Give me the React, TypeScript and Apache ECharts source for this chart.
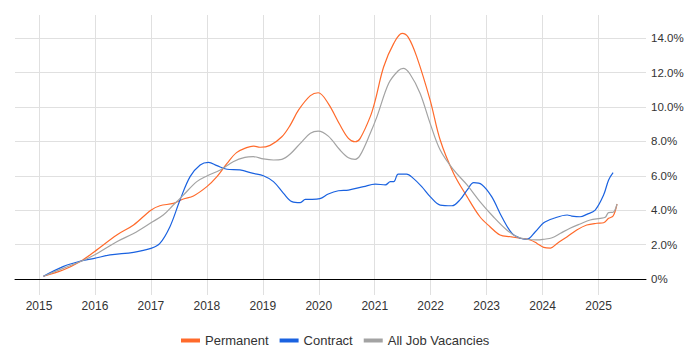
import React, { useEffect, useRef } from "react";
import * as echarts from "echarts";

const yearTicks = [2015, 2016, 2017, 2018, 2019, 2020, 2021, 2022, 2023, 2024, 2025];
const pctTicks = [0, 2, 4, 6, 8, 10, 12, 14];

const permDates = [2015.08, 2015.43, 2015.73, 2015.99, 2016.39, 2016.69, 2017.0, 2017.16, 2017.4, 2017.58, 2017.76, 2018.0, 2018.18, 2018.36, 2018.53, 2018.71, 2018.83, 2018.95, 2019.13, 2019.34, 2019.49, 2019.64, 2019.85, 2019.99, 2020.17, 2020.38, 2020.53, 2020.65, 2020.74, 2020.92, 2021.01, 2021.16, 2021.34, 2021.49, 2021.6, 2021.75, 2021.99, 2022.17, 2022.41, 2022.65, 2022.88, 2023.06, 2023.24, 2023.42, 2023.6, 2023.78, 2023.9, 2024.02, 2024.14, 2024.26, 2024.44, 2024.61, 2024.79, 2024.97, 2025.09, 2025.18, 2025.26, 2025.33];
const permValues = [0.16, 0.52, 1.0, 1.59, 2.56, 3.14, 4.0, 4.26, 4.4, 4.65, 4.83, 5.37, 5.95, 6.72, 7.35, 7.64, 7.73, 7.66, 7.77, 8.27, 8.95, 9.83, 10.66, 10.83, 10.2, 8.95, 8.18, 7.98, 8.18, 9.44, 10.4, 12.34, 13.7, 14.28, 14.05, 12.93, 10.4, 8.08, 6.14, 4.79, 3.62, 3.04, 2.56, 2.46, 2.37, 2.27, 2.07, 1.84, 1.8, 2.07, 2.46, 2.85, 3.14, 3.24, 3.27, 3.53, 3.66, 4.36];

const contDates = [2015.08, 2015.43, 2015.73, 2015.99, 2016.27, 2016.69, 2017.0, 2017.16, 2017.34, 2017.52, 2017.7, 2017.88, 2018.03, 2018.18, 2018.36, 2018.59, 2018.83, 2019.01, 2019.19, 2019.37, 2019.52, 2019.67, 2019.76, 2019.88, 2020.02, 2020.17, 2020.35, 2020.53, 2020.8, 2021.01, 2021.19, 2021.28, 2021.34, 2021.42, 2021.57, 2021.69, 2021.84, 2021.99, 2022.17, 2022.38, 2022.53, 2022.65, 2022.77, 2022.91, 2023.09, 2023.27, 2023.45, 2023.6, 2023.72, 2023.87, 2024.02, 2024.2, 2024.44, 2024.52, 2024.67, 2024.79, 2024.94, 2025.09, 2025.18, 2025.26];
const contValues = [0.16, 0.72, 1.03, 1.2, 1.4, 1.55, 1.78, 2.07, 3.04, 4.59, 5.95, 6.63, 6.78, 6.59, 6.38, 6.34, 6.14, 6.0, 5.66, 4.98, 4.5, 4.44, 4.63, 4.63, 4.67, 4.94, 5.13, 5.17, 5.37, 5.52, 5.47, 5.66, 5.66, 6.1, 6.1, 5.85, 5.37, 4.79, 4.3, 4.26, 4.63, 5.17, 5.6, 5.5, 4.79, 3.62, 2.66, 2.37, 2.31, 2.75, 3.27, 3.53, 3.72, 3.66, 3.62, 3.76, 4.01, 4.88, 5.76, 6.18];

const allDates = [2015.08, 2015.43, 2015.73, 2015.99, 2016.39, 2016.69, 2017.0, 2017.22, 2017.4, 2017.58, 2017.82, 2018.0, 2018.24, 2018.47, 2018.68, 2018.83, 2019.01, 2019.19, 2019.34, 2019.49, 2019.67, 2019.85, 2019.99, 2020.17, 2020.38, 2020.53, 2020.65, 2020.74, 2020.92, 2021.04, 2021.25, 2021.42, 2021.51, 2021.63, 2021.81, 2021.99, 2022.17, 2022.41, 2022.65, 2022.88, 2023.12, 2023.36, 2023.54, 2023.72, 2023.9, 2024.02, 2024.17, 2024.32, 2024.49, 2024.67, 2024.85, 2025.03, 2025.12, 2025.18, 2025.26, 2025.33];
const allValues = [0.16, 0.62, 1.0, 1.4, 2.17, 2.65, 3.27, 3.72, 4.3, 4.88, 5.66, 5.99, 6.34, 6.82, 7.07, 7.11, 6.98, 6.92, 6.96, 7.27, 7.89, 8.47, 8.6, 8.31, 7.5, 7.05, 6.96, 7.2, 8.47, 9.44, 11.38, 12.11, 12.25, 11.92, 10.8, 9.05, 7.5, 6.34, 5.47, 4.5, 3.62, 2.85, 2.46, 2.31, 2.27, 2.31, 2.4, 2.66, 2.95, 3.2, 3.43, 3.53, 3.59, 3.86, 3.88, 4.36];

const zip = (xs: number[], ys: number[]) => xs.map((x, i) => [x, ys[i]]);

export default function App() {
  const ref = useRef<HTMLDivElement>(null);
  useEffect(() => {
    if (!ref.current) return;
    const chart = echarts.init(ref.current, null, { renderer: "svg" });
    const font = "Arial, 'Liberation Sans', sans-serif";
    const mk = (name: string, color: string, data: number[][]) => ({
      name,
      type: "line",
      data,
      smooth: 0.35,
      showSymbol: false,
      symbol: "none",
      lineStyle: { color, width: 1.2 },
      itemStyle: { color },
    });
    chart.setOption({
      animation: false,
      textStyle: { fontFamily: font },
      grid: { left: 15, right: 54, top: 15, bottom: 55, containLabel: false, outerBoundsMode: "none" },
      legend: {
        top: 329,
        left: 176,
        icon: "rect",
        itemWidth: 19,
        itemHeight: 4,
        itemGap: 11,
        textStyle: { fontSize: 13, color: "#333", fontFamily: font },
        data: ["Permanent", "Contract", "All Job Vacancies"],
      },
      xAxis: {
        type: "value",
        min: 2014.571,
        max: 2025.848,
        axisLine: { show: true, lineStyle: { color: "#000", width: 1 } },
        axisTick: { show: false, customValues: yearTicks },
        axisLabel: {
          customValues: yearTicks,
          formatter: (v: number) => String(Math.round(v)),
          color: "#333",
          fontSize: 12,
          margin: 5,
        },
        splitLine: { show: true, lineStyle: { color: "#e0e0e0", width: 1 } },
      },
      yAxis: {
        type: "value",
        position: "right",
        min: -0.93,
        max: 15.35,
        axisLine: { show: false },
        axisTick: { show: false, customValues: pctTicks },
        axisLabel: {
          customValues: pctTicks,
          formatter: (v: number) => (v === 0 ? "0%" : v.toFixed(1) + "%"),
          color: "#333",
          fontSize: 11.5,
          margin: 5,
        },
        splitLine: { show: true, lineStyle: { color: "#e0e0e0", width: 1 } },
      },
      series: [
        mk("Permanent", "#ff6a2b", zip(permDates, permValues)),
        mk("Contract", "#1a62e0", zip(contDates, contValues)),
        mk("All Job Vacancies", "#a3a3a3", zip(allDates, allValues)),
      ],
    });
    return () => chart.dispose();
  }, []);
  return <div ref={ref} style={{ position: "absolute", left: 0, top: 0, width: 700, height: 350 }} />;
}
